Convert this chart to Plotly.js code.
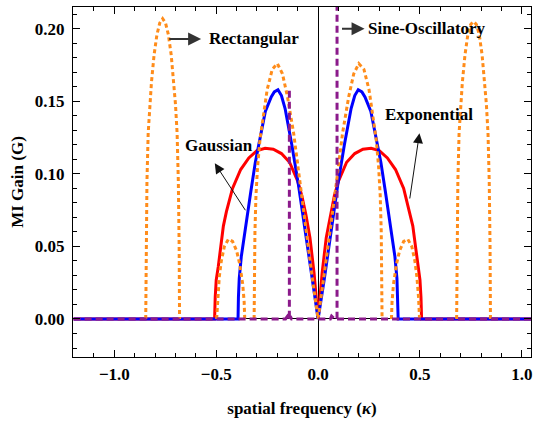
<!DOCTYPE html>
<html>
<head>
<meta charset="utf-8">
<script src="https://cdn.plot.ly/plotly-3.0.1.min.js"></script>
<style>html,body{margin:0;padding:0;background:#fff;}</style>
</head>
<body>
<div id="chart" style="width:535px;height:423px;"></div>
<script>
// ---- Data ----
// Gaussian profile (blue)
const gaussK = [-1.2, -0.393, -0.391, -0.387, -0.377, -0.365, -0.349, -0.33, -0.308, -0.28, -0.259, -0.23, -0.215, -0.197, -0.18, -0.162, -0.129, -0.096, -0.064, -0.031, 0,
                0.031, 0.064, 0.096, 0.129, 0.162, 0.18, 0.197, 0.215, 0.23, 0.259, 0.28, 0.308, 0.33, 0.349, 0.365, 0.377, 0.387, 0.391, 0.393, 1.05];
const gaussG = [0, 0, 0.015, 0.028, 0.043, 0.055, 0.071, 0.088, 0.108, 0.128, 0.143, 0.153, 0.1565, 0.158, 0.154, 0.145, 0.120, 0.092, 0.062, 0.028, 0,
                0.028, 0.062, 0.092, 0.120, 0.145, 0.154, 0.158, 0.1565, 0.153, 0.143, 0.128, 0.108, 0.088, 0.071, 0.055, 0.043, 0.028, 0.015, 0, 0];

// Exponential profile (red)
const expK = [-1.2, -0.508, -0.505, -0.5, -0.49, -0.48, -0.465, -0.45, -0.42, -0.38, -0.34, -0.3, -0.26, -0.22, -0.18, -0.14, -0.1, -0.08, -0.06, -0.04, -0.02, 0,
              0.02, 0.04, 0.06, 0.08, 0.1, 0.14, 0.18, 0.22, 0.26, 0.3, 0.34, 0.38, 0.42, 0.45, 0.465, 0.48, 0.49, 0.5, 0.505, 0.508, 1.05];
const expG = [0, 0, 0.015, 0.027, 0.036, 0.048, 0.064, 0.074, 0.090, 0.103, 0.111, 0.116, 0.1177, 0.117, 0.114, 0.108, 0.095, 0.085, 0.072, 0.056, 0.032, 0,
              0.032, 0.056, 0.072, 0.085, 0.095, 0.108, 0.114, 0.117, 0.1177, 0.116, 0.111, 0.103, 0.090, 0.074, 0.064, 0.048, 0.036, 0.027, 0.015, 0, 0];

// Rectangular profile (orange, dotted) - separate gain bands
const rectK = [-0.846, -0.844, -0.84, -0.834, -0.826, -0.818, -0.805, -0.791, -0.777, -0.763, -0.749, -0.735, -0.721, -0.708, -0.700, -0.692, -0.686, -0.682, -0.680, null,
               -0.498, -0.493, -0.485, -0.475, -0.46, -0.44, -0.42, -0.4, -0.385, -0.37, -0.363, -0.36, null,
               -0.314, -0.313, -0.31, -0.305, -0.297, -0.285, -0.27, -0.25, -0.225, -0.2, -0.175, -0.15, -0.12, -0.09, -0.06, -0.03, 0,
               0.03, 0.06, 0.09, 0.12, 0.15, 0.175, 0.2, 0.225, 0.25, 0.27, 0.285, 0.297, 0.305, 0.31, 0.313, 0.314, null,
               0.36, 0.363, 0.37, 0.385, 0.4, 0.42, 0.44, 0.46, 0.475, 0.485, 0.493, 0.498, null,
               0.680, 0.682, 0.686, 0.692, 0.700, 0.708, 0.721, 0.735, 0.749, 0.763, 0.777, 0.791, 0.805, 0.818, 0.826, 0.834, 0.84, 0.844, 0.846];
const rectG = [0, 0.05, 0.095, 0.128, 0.148, 0.163, 0.182, 0.196, 0.204, 0.207, 0.204, 0.196, 0.182, 0.163, 0.148, 0.128, 0.095, 0.05, 0, null,
               0, 0.015, 0.029, 0.04, 0.05, 0.055, 0.0535, 0.047, 0.038, 0.024, 0.012, 0, null,
               0, 0.03, 0.06, 0.085, 0.105, 0.124, 0.138, 0.158, 0.172, 0.176, 0.169, 0.153, 0.128, 0.094, 0.062, 0.03, 0,
               0.03, 0.062, 0.094, 0.128, 0.153, 0.169, 0.176, 0.172, 0.158, 0.138, 0.124, 0.105, 0.085, 0.06, 0.03, 0, null,
               0, 0.012, 0.024, 0.038, 0.047, 0.0535, 0.055, 0.05, 0.04, 0.029, 0.015, 0, null,
               0, 0.05, 0.095, 0.128, 0.148, 0.163, 0.182, 0.196, 0.203, 0.205, 0.203, 0.196, 0.182, 0.163, 0.148, 0.128, 0.095, 0.05, 0];

// Sine-oscillatory profile (purple, dashed) - narrow spikes
const sineK = [-1.2, -0.16, -0.15, -0.145, -0.141, -0.141, null, -0.141, -0.137, -0.13, 0, 0.06, 0.066, 0.08, 0.093, 0.093, null, 0.093, 0.1, 1.05];
const sineG = [0, 0, 0.002, 0.001, 0, 0.159, null, 0, 0.002, 0, 0, 0, 0.002, 0, 0, 0.3, null, 0, 0, 0];

// Axis ticks
const xTickVals = [-1.0, -0.5, 0.0, 0.5, 1.0];
const yTickVals = [0.00, 0.05, 0.10, 0.15, 0.20];

// Labels
const labels = {
  rect: 'Rectangular', sine: 'Sine-Oscillatory', gauss: 'Gaussian', expo: 'Exponential',
  xTitle: 'spatial frequency (<i>κ</i>)', yTitle: 'MI Gain (G)'
};

const traces = [
  {x: expK, y: expG, mode: 'lines', line: {color: '#ff0000', width: 3}, hoverinfo: 'skip'},
  {x: gaussK, y: gaussG, mode: 'lines', line: {color: '#0000ff', width: 3}, hoverinfo: 'skip'},
  {x: rectK, y: rectG, mode: 'lines', connectgaps: false, line: {color: '#ff8c1a', width: 3, dash: '4px,3px'}, hoverinfo: 'skip'},
  {x: sineK, y: sineG, mode: 'lines', connectgaps: false, line: {color: '#8b1a8b', width: 3, dash: '7px,4px'}, hoverinfo: 'skip'}
];

const F = 'Liberation Serif, Times New Roman, serif';
const annFont = {family: F, size: 17, color: 'black', weight: 'bold'};

const annotations = [
  // arrows
  {xref: 'x', yref: 'y', axref: 'x', ayref: 'y', x: -0.574, y: 0.193, ax: -0.738, ay: 0.193, text: '', showarrow: true,
   arrowhead: 2, arrowsize: 1.3, arrowwidth: 2, arrowcolor: '#333', standoff: 0, startstandoff: 0},
  {xref: 'x', yref: 'y', axref: 'x', ayref: 'y', x: 0.228, y: 0.200, ax: 0.110, ay: 0.200, text: '', showarrow: true,
   arrowhead: 2, arrowsize: 1.3, arrowwidth: 2, arrowcolor: '#333', standoff: 0, startstandoff: 0},
  {xref: 'x', yref: 'y', axref: 'x', ayref: 'y', x: -0.507, y: 0.1073, ax: -0.352, ay: 0.0739, text: '', showarrow: true,
   arrowhead: 2, arrowsize: 2, arrowwidth: 1, arrowcolor: '#111', standoff: 0, startstandoff: 0},
  {xref: 'x', yref: 'y', axref: 'x', ayref: 'y', x: 0.4975, y: 0.128, ax: 0.449, ay: 0.082, text: '', showarrow: true,
   arrowhead: 2, arrowsize: 2, arrowwidth: 1, arrowcolor: '#111', standoff: 0, startstandoff: 0},
  // texts
  {xref: 'x', yref: 'y', x: -0.546, y: 0.193, text: labels.rect, showarrow: false, xanchor: 'left', yanchor: 'middle', font: annFont},
  {xref: 'x', yref: 'y', x: 0.236, y: 0.200, text: labels.sine, showarrow: false, xanchor: 'left', yanchor: 'middle', font: annFont},
  {xref: 'x', yref: 'y', x: -0.488, y: 0.1193, text: labels.gauss, showarrow: false, xanchor: 'center', yanchor: 'middle', font: annFont},
  {xref: 'x', yref: 'y', x: 0.542, y: 0.1407, text: labels.expo, showarrow: false, xanchor: 'center', yanchor: 'middle', font: annFont}
];

const axisCommon = {
  ticks: 'inside', ticklen: 7, tickwidth: 1, tickcolor: 'black',
  showline: true, linecolor: 'black', linewidth: 1, mirror: 'allticks',
  zeroline: true, zerolinecolor: 'black', zerolinewidth: 1, showgrid: false,
  tickfont: {family: F, size: 17, color: 'black', weight: 'bold'}
};

const layout = {
  width: 535, height: 423,
  margin: {l: 73, r: 4, t: 7, b: 66},
  paper_bgcolor: 'white', plot_bgcolor: 'white', showlegend: false,
  font: {family: F, size: 17, color: 'black'},
  xaxis: Object.assign({}, axisCommon, {
    range: [-1.203, 1.045], tickvals: xTickVals, tickformat: '.1f',
    minor: {dtick: 0.1, tick0: 0, ticks: 'inside', ticklen: 4, tickcolor: 'black', showgrid: false},
    ticklabelstandoff: 2,
    title: {text: labels.xTitle, font: {family: F, size: 17, color: 'black', weight: 'bold'}, standoff: 18}
  }),
  yaxis: Object.assign({}, axisCommon, {
    range: [-0.0262, 0.215], tickvals: yTickVals, tickformat: '.2f',
    minor: {dtick: 0.01, tick0: 0, ticks: 'inside', ticklen: 4, tickcolor: 'black', showgrid: false},
    ticklabelstandoff: 4,
    title: {text: labels.yTitle, font: {family: F, size: 17, color: 'black', weight: 'bold'}, standoff: 6}
  }),
  annotations: annotations
};

Plotly.newPlot('chart', traces, layout, {staticPlot: true, displayModeBar: false});
</script>
</body>
</html>
